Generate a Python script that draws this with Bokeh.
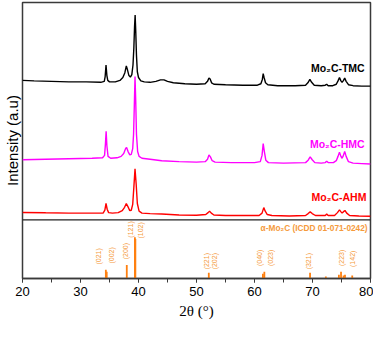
import numpy as np
from bokeh.plotting import figure
from bokeh.models import Span, Range1d, SingleIntervalTicker, FixedTicker
from bokeh.core.properties import value
from bokeh.embed import file_html
from bokeh.resources import INLINE

# ---- data (2theta in degrees, intensity in arbitrary units incl. vertical offset) ----
tmc_2theta = [20.0, 22, 25, 28, 31, 33.5, 34.1, 34.25, 34.4, 34.55, 34.7, 35, 36, 36.8, 37.3, 37.65, 37.9, 38.1,
              38.35, 38.6, 38.85, 39.05, 39.2, 39.32, 39.42, 39.52, 39.65, 39.8, 40.0, 40.4, 41, 42, 43, 43.8, 44.4,
              45, 46, 48, 50, 51.5, 51.9, 52.15, 52.35, 52.6, 53, 55, 58, 60.5, 61.1, 61.35, 61.5, 61.65, 61.9, 62.3,
              64, 67, 68.8, 69.2, 69.55, 69.85, 70.3, 71.5, 72.2, 72.45, 72.7, 73.5, 74.1, 74.4, 74.65, 74.9, 75.1,
              75.35, 75.55, 75.8, 76.2, 77, 78.5, 80]
tmc_int = [206, 205.5, 205, 204.5, 204.5, 204, 205, 210, 222, 211, 206, 204.5, 204.5, 206, 209, 214, 221, 217,
           211, 209.5, 212, 222, 240, 262, 274, 258, 232, 215, 209, 205.5, 204.5, 204, 205, 206.5, 206.5,
           205, 203.5, 202.5, 202, 202.5, 205, 208.5, 207.5, 203.5, 202, 201.5, 201, 201, 202.5, 207, 213, 209, 203.5, 201.5,
           200.5, 200.5, 201, 203.5, 207, 204, 201, 200.5, 201, 202, 200.5, 200.5, 202, 205.5, 209, 205.5, 204,
           206, 208.5, 205, 201.5, 200.5, 200, 200]

hmc_2theta = [20, 24, 28, 32, 33.8, 34.15, 34.3, 34.42, 34.55, 34.75, 35.2, 36.3, 37.0, 37.45, 37.8, 37.95, 38.2,
              38.5, 38.75, 39.0, 39.15, 39.28, 39.4, 39.52, 39.65, 39.85, 40.1, 40.6, 42, 44, 47, 50, 51.5, 51.9,
              52.15, 52.4, 52.7, 53.2, 56, 60, 61.0, 61.3, 61.5, 61.7, 61.95, 62.4, 65, 68.8, 69.25, 69.6, 69.95,
              70.4, 71.5, 72.2, 72.45, 72.7, 73.6, 74.1, 74.4, 74.65, 74.9, 75.1, 75.3, 75.55, 75.8, 76.2, 77, 78.5, 80]
hmc_int = [123.5, 124, 124.5, 125, 125.5, 128, 140, 153, 138, 127, 125, 125.5, 127, 130, 135.5, 136.3, 132,
           128.5, 129, 135, 150, 180, 210, 185, 150, 132, 127, 125, 124, 122.5, 121.5, 121, 121.5, 124,
           128.5, 126.5, 122.5, 121, 120.5, 120.5, 121.5, 128, 140.3, 132, 123, 120.5, 120, 120.5, 123, 126.5, 123.5,
           120.5, 120, 120.5, 122, 120.5, 120.5, 122.5, 127, 131.3, 127, 125, 127.5, 132, 127, 121.5, 120, 119.5, 119]

ahm_2theta = [20, 24, 28, 32, 33.9, 34.2, 34.4, 34.6, 34.85, 35.5, 36.5, 37.2, 37.6, 37.9, 38.2, 38.5, 38.75,
              39.0, 39.2, 39.4, 39.6, 39.8, 40.1, 40.6, 42, 44, 47, 50, 51.6, 52.0, 52.25, 52.55, 53, 55, 58, 60.8,
              61.3, 61.6, 61.85, 62.2, 63, 66, 68.8, 69.25, 69.6, 69.95, 70.5, 72.2, 72.45, 72.7, 73.8, 74.3, 74.65,
              74.95, 75.1, 75.35, 75.6, 75.9, 76.4, 78, 80]
ahm_int = [68.7, 68.3, 68, 68, 68, 71, 78, 72, 68.5, 68, 68.5, 70.5, 74, 78, 74.5, 70.5, 71,
           77, 95, 114, 98, 78, 70, 68, 67.5, 67, 66, 65.7, 66.5, 68.5, 70, 68, 66, 65.5, 65.5, 65.5,
           68, 73.7, 70, 66.5, 65.5, 65, 65.5, 67.5, 69.3, 67.5, 65.5, 65.5, 67, 65.5, 65.5, 68.5, 71.3,
           69, 68, 69.5, 70.7, 68, 65.5, 65, 64.7]

# reference pattern (ICDD 01-071-0242) sticks
ref_2theta = [34.37, 34.52, 37.98, 39.38, 39.46, 52.12, 61.45, 61.70, 69.58, 72.30, 74.55, 74.92, 75.35, 75.60, 76.85]
ref_int = [9, 7, 14, 43, 41, 6, 5, 7, 6, 2, 4, 7, 3, 4, 3]

hkl_labels = ["(021)", "(002)", "(200)", "(121)", "(102)", "(221)", "(202)", "(040)", "(023)", "(321)", "(223)", "(142)"]
hkl_x = [33.15, 35.34, 37.70, 38.55, 40.30, 51.64, 53.15, 60.79, 62.81, 69.38, 74.95, 76.92]
hkl_y = [23, 24, 28.5, 51, 50, 18, 18, 21.5, 21.5, 18, 21.5, 20.5]

series_names = ["Mo\u2082C-TMC", "Mo\u2082C-HMC", "Mo\u2082C-AHM"]
ref_name = "\u03b1-Mo\u2082C (ICDD 01-071-0242)"
x_ticks_interval = 10

ORANGE = "#FF8010"
ORANGE_TXT = "#F59A3C"

p = figure(width=373, height=321, output_backend="svg", toolbar_location=None,
           x_range=Range1d(20, 80), y_range=Range1d(0, 287),
           min_border_left=21, min_border_right=3, min_border_top=2, min_border_bottom=10)
p.background_fill_color = "white"
p.border_fill_color = "white"
p.xgrid.visible = False
p.ygrid.visible = False
p.outline_line_color = "#3a3a3a"
p.outline_line_width = 1.5

ay = p.yaxis[0]
ay.ticker = FixedTicker(ticks=[])
ay.axis_line_color = None
ay.major_tick_line_color = None
ay.minor_tick_line_color = None
ay.axis_label = "Intensity (a.u)"
ay.axis_label_text_font = "Liberation Sans"
ay.axis_label_text_font_size = "15px"
ay.axis_label_text_font_style = "normal"
ay.axis_label_text_color = "black"
ay.axis_label_standoff = 2

ax = p.xaxis[0]
ax.ticker = SingleIntervalTicker(interval=x_ticks_interval, num_minor_ticks=2)
ax.axis_line_color = "#3a3a3a"
ax.axis_line_width = 1.5
ax.major_tick_line_color = "#3a3a3a"
ax.minor_tick_line_color = "#3a3a3a"
ax.major_tick_in = 0
ax.major_tick_out = 4
ax.minor_tick_in = 0
ax.minor_tick_out = 4
ax.major_label_text_font = "Liberation Sans"
ax.major_label_text_font_size = "13px"
ax.major_label_text_color = "black"
ax.major_label_standoff = 4
ax.axis_label = "2\u03b8 (\u00b0)"
ax.axis_label_text_font = "Liberation Serif"
ax.axis_label_text_font_size = "15px"
ax.axis_label_text_font_style = "normal"
ax.axis_label_text_color = "black"
ax.axis_label_standoff = 4

# separator between patterns and reference
p.add_layout(Span(location=61, dimension="width", line_color="#222222", line_width=1.2))

# patterns
p.line(tmc_2theta, tmc_int, line_color="black", line_width=1.4)
p.line(hmc_2theta, hmc_int, line_color="#FF00FF", line_width=1.4)
p.line(ahm_2theta, ahm_int, line_color="#FF0000", line_width=1.4)

# reference sticks
p.segment(x0=ref_2theta, y0=[0] * len(ref_2theta), x1=ref_2theta, y1=ref_int,
          line_color=ORANGE, line_width=1.8)

# hkl labels
p.text(x=hkl_x, y=hkl_y, text=hkl_labels, angle=np.pi / 2, text_align="center",
       text_baseline="middle", text_font=value("Liberation Sans"), text_font_size="7px",
       text_color=ORANGE_TXT)

# series labels
p.text(x=[79.0, 79.0, 79.3], y=[219, 140, 85], text=series_names,
       text_color=["black", "#FF00FF", "#FF0000"], text_align="right", text_baseline="middle",
       text_font=value("Liberation Sans"), text_font_size="10.5px", text_font_style="bold")
p.text(x=[79.5], y=[52], text=[ref_name], text_color=ORANGE_TXT, text_align="right",
       text_baseline="middle", text_font=value("Liberation Sans"), text_font_size="8.3px",
       text_font_style="bold")

open("out.html", "w").write(file_html(p, INLINE))
